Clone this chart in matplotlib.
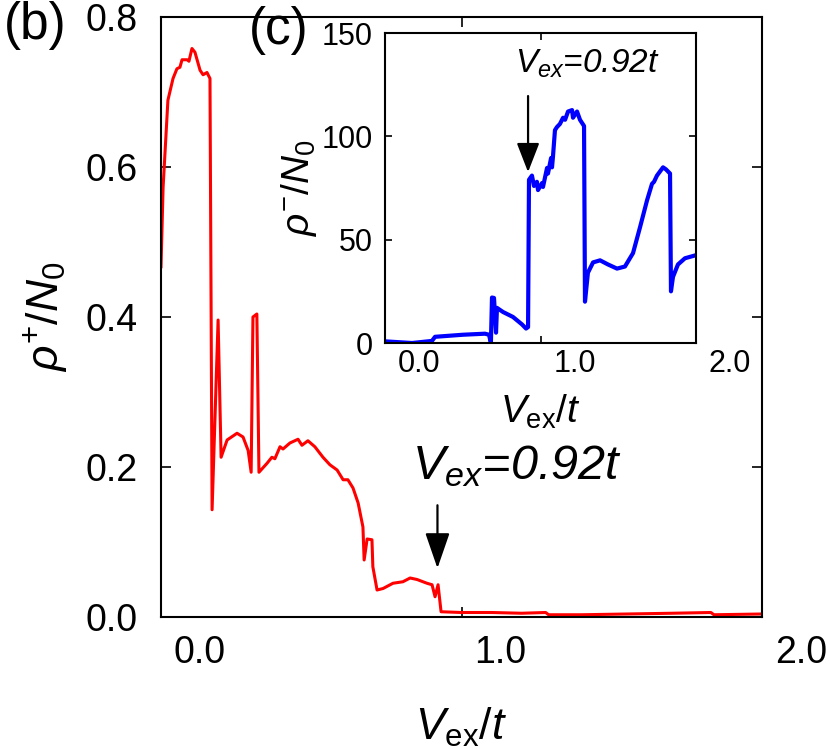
import numpy as np
import matplotlib
matplotlib.use("Agg")
import matplotlib.pyplot as plt
from matplotlib.transforms import ScaledTranslation

plt.rcParams['font.family'] = ['Liberation Sans', 'DejaVu Sans']
plt.rcParams['mathtext.fontset'] = 'custom'
plt.rcParams['mathtext.rm'] = 'Liberation Sans'
plt.rcParams['mathtext.it'] = 'Liberation Sans:italic'
plt.rcParams['mathtext.bf'] = 'Liberation Sans:bold'

# panel (b): rho+ / N0 vs Vex/t
x_main = [0.0, 0.007, 0.023, 0.040, 0.053, 0.063, 0.070, 0.087, 0.093, 0.103,
          0.113, 0.130, 0.140, 0.153, 0.163, 0.170, 0.190, 0.200, 0.220, 0.253,
          0.273, 0.290, 0.300, 0.306, 0.319, 0.326, 0.353, 0.369, 0.379, 0.396,
          0.406, 0.429, 0.456, 0.469, 0.489, 0.512, 0.539, 0.562, 0.586, 0.606,
          0.622, 0.639, 0.656, 0.672, 0.676, 0.686, 0.702, 0.705, 0.719, 0.739,
          0.772, 0.805, 0.829, 0.852, 0.885, 0.902, 0.912, 0.922, 0.932, 1.0,
          1.1, 1.2, 1.28, 1.29, 1.4, 1.55, 1.7, 1.83, 1.84, 2.0]
y_main = [0.467, 0.573, 0.689, 0.718, 0.731, 0.733, 0.743, 0.743, 0.741, 0.758,
          0.753, 0.729, 0.723, 0.726, 0.718, 0.143, 0.396, 0.213, 0.236, 0.245,
          0.240, 0.222, 0.193, 0.400, 0.404, 0.193, 0.205, 0.213, 0.211, 0.227,
          0.224, 0.232, 0.237, 0.229, 0.235, 0.227, 0.213, 0.203, 0.196, 0.183,
          0.183, 0.172, 0.152, 0.120, 0.076, 0.104, 0.103, 0.067, 0.036, 0.038,
          0.045, 0.047, 0.052, 0.050, 0.045, 0.043, 0.027, 0.043, 0.007, 0.006,
          0.006, 0.005, 0.006, 0.003, 0.003, 0.004, 0.005, 0.006, 0.003, 0.004]

# panel (c): rho- / N0 vs Vex/t
x_in = [0.0, 0.174, 0.302, 0.322, 0.502, 0.643, 0.669, 0.681, 0.688, 0.701,
        0.714, 0.720, 0.759, 0.823, 0.881, 0.907, 0.920, 0.926, 0.945, 0.958,
        0.977, 0.984, 1.010, 1.016, 1.042, 1.048, 1.068, 1.074, 1.080, 1.093,
        1.106, 1.125, 1.145, 1.158, 1.177, 1.203, 1.209, 1.235, 1.254, 1.280,
        1.286, 1.305, 1.338, 1.383, 1.434, 1.492, 1.543, 1.595, 1.640, 1.685,
        1.717, 1.730, 1.749, 1.788, 1.807, 1.833, 1.839, 1.852, 1.884, 1.929, 2.0]
y_in = [0.8, 0.0, 1.0, 3.0, 4.0, 4.5, 4.0, 0.0, 22.0, 21.8,
        5.0, 17.0, 15.0, 12.6, 9.0, 7.0, 7.7, 79.0, 81.0, 76.0,
        78.0, 74.0, 77.4, 75.5, 84.7, 82.0, 89.5, 85.0, 90.0, 103.0,
        104.5, 106.0, 109.0, 108.0, 112.0, 112.7, 109.0, 112.0, 108.0, 105.0,
        20.0, 34.0, 39.0, 40.0, 38.0, 36.0, 37.0, 43.5, 56.0, 69.0,
        77.0, 78.0, 81.0, 85.0, 84.0, 82.0, 25.0, 32.0, 38.0, 41.0, 42.5]

main_xticks = [0.0, 1.0, 2.0]
main_xlabels = ['0.0', '1.0', '2.0']
main_yticks = [0.0, 0.2, 0.4, 0.6, 0.8]
main_ylabels = ['0.0', '0.2', '0.4', '0.6', '0.8']
in_yticks = [0, 50, 100, 150]
in_ylabels = ['0', '50', '100', '150']
v_mark = 0.92

fig = plt.figure(figsize=(8.3, 7.49), dpi=100)

ax = fig.add_axes([161/830, 132/749, 601/830, 600/749])
ax.plot(x_main, y_main, color='#ff0000', lw=2.2)
ax.set_xlim(0, 2)
ax.set_ylim(0, 0.8)
ax.set_xticks(main_xticks)
ax.set_xticklabels(main_xlabels)
ax.set_yticks(main_yticks)
ax.set_yticklabels(main_ylabels)
ax.tick_params(direction='in', top=True, right=True, length=7, width=1.2,
               labelsize=27)
ax.tick_params(axis='x', pad=13)
ax.tick_params(axis='y', pad=17)
for s in ax.spines.values():
    s.set_linewidth(1.5)
off = ScaledTranslation(39/100, 0, fig.dpi_scale_trans)
for lab in ax.get_xticklabels():
    lab.set_transform(lab.get_transform() + off)
ax.text(0.5, -0.148, r'$V_{\mathrm{ex}}/t$', transform=ax.transAxes,
        ha='center', va='top', fontsize=32)
ax.text(-0.193, 0.5, r'$\rho^{+}/N_\mathit{0}$', transform=ax.transAxes,
        ha='center', va='center', rotation=90, fontsize=32)
ax.annotate('', xy=(v_mark, 0.065), xytext=(v_mark, 0.149),
            arrowprops=dict(arrowstyle='-|>,head_width=0.38,head_length=1.1',
                            mutation_scale=20, color='k', lw=1.6,
                            shrinkA=0, shrinkB=0))
ax.text(0.835, 0.184, r'$V_{ex}$=0.92t', fontsize=35, style='italic',
        ha='left', va='baseline')

ins = fig.add_axes([385/830, 406/749, 311/830, 310/749])
ins.plot(x_in, y_in, color='#0000ff', lw=3)
ins.set_xlim(0, 2)
ins.set_ylim(0, 150)
ins.set_xticks(main_xticks)
ins.set_xticklabels(main_xlabels)
ins.set_yticks(in_yticks)
ins.set_yticklabels(in_ylabels)
ins.tick_params(direction='in', top=True, right=True, length=5, width=1.2,
                labelsize=22)
ins.tick_params(axis='x', pad=4)
ins.tick_params(axis='y', pad=9)
for s in ins.spines.values():
    s.set_linewidth(1.5)
off2 = ScaledTranslation(34/100, 0, fig.dpi_scale_trans)
for lab in ins.get_xticklabels():
    lab.set_transform(lab.get_transform() + off2)
ins.text(0.5, -0.16, r'$V_{\mathrm{ex}}/t$', transform=ins.transAxes,
         ha='center', va='top', fontsize=28)
ins.text(-0.275, 0.5, r'$\rho^{-}/N_\mathit{0}$', transform=ins.transAxes,
         ha='center', va='center', rotation=90, fontsize=28)
ins.annotate('', xy=(v_mark, 82.7), xytext=(v_mark, 119.5),
             arrowprops=dict(arrowstyle='-|>,head_width=0.35,head_length=0.9',
                             mutation_scale=20, color='k', lw=1.6,
                             shrinkA=0, shrinkB=0))
ins.text(0.836, 130.6, r'$V_{ex}$=0.92t', fontsize=24, style='italic',
         ha='left', va='baseline')

fig.text(4/830, 1 - 1/749, '(b)', fontsize=37, ha='left', va='top')
fig.text(249/830, 1 - 6/749, '(c)', fontsize=37, ha='left', va='top')

fig.savefig('out.png', dpi=100)
